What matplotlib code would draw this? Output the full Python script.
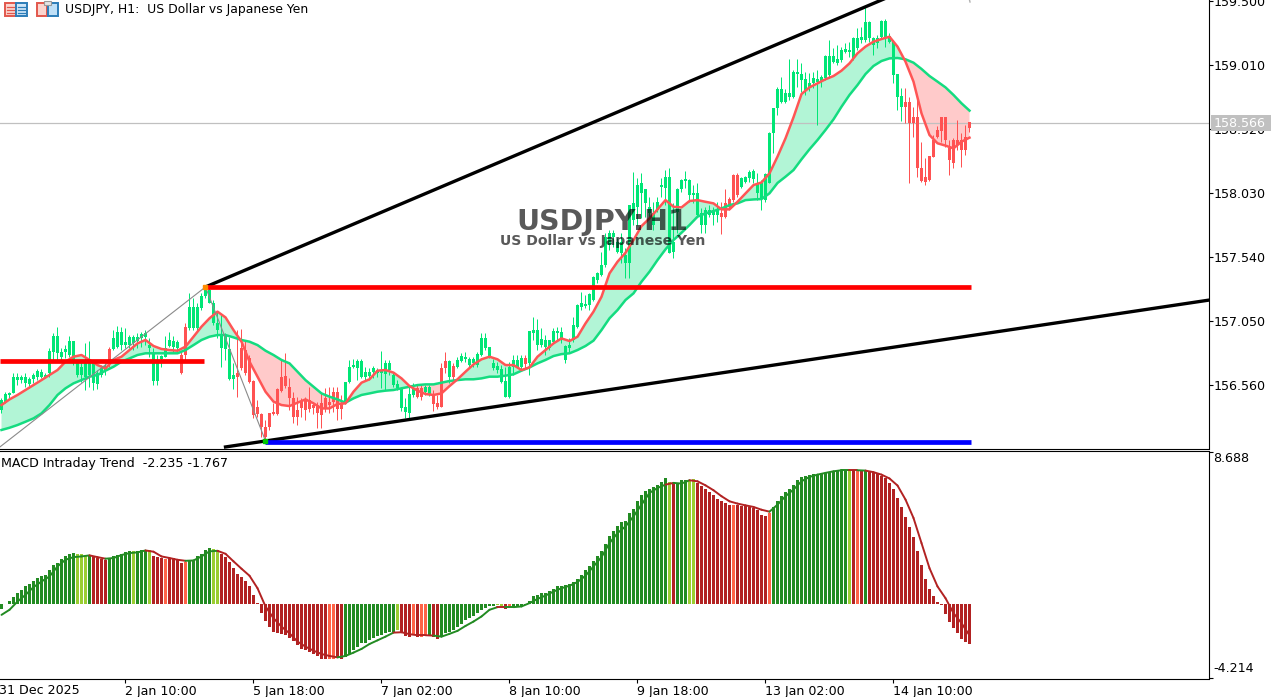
import numpy as np
import matplotlib
matplotlib.use("Agg")
import matplotlib.pyplot as plt
from matplotlib.patches import Rectangle

# USDJPY H1 candles
body_top = [
    156.445, 156.489, 156.496, 156.619, 156.624, 156.619, 156.619, 156.606, 156.637, 156.670,
    156.662, 156.637, 156.820, 156.935, 156.935, 156.815, 156.836, 156.897, 156.897, 156.726,
    156.695, 156.726, 156.726, 156.726, 156.649, 156.688, 156.706, 156.833, 156.917, 156.968,
    156.968, 156.892, 156.925, 156.925, 156.925, 156.948, 156.956, 156.866, 156.803, 156.726,
    156.782, 156.841, 156.905, 156.900, 156.892, 156.790, 157.002, 157.160, 157.155, 157.160,
    157.242, 157.287, 157.287, 157.190, 157.032, 156.943, 156.943, 156.833, 156.637, 156.655,
    156.841, 156.828, 156.764, 156.593, 156.394, 156.338, 156.241, 156.343, 156.351, 156.527,
    156.624, 156.629, 156.542, 156.458, 156.369, 156.440, 156.445, 156.445, 156.407, 156.407,
    156.420, 156.458, 156.433, 156.504, 156.504,
    156.415, 156.586, 156.695, 156.713, 156.746, 156.746, 156.662, 156.657, 156.688, 156.675,
    156.675, 156.726, 156.731, 156.637, 156.568, 156.535, 156.394, 156.491, 156.535, 156.535,
    156.535, 156.542, 156.547, 156.484, 156.420, 156.688, 156.744, 156.744, 156.706, 156.752,
    156.782, 156.772, 156.757, 156.757, 156.797, 156.917, 156.917, 156.849, 156.731, 156.706,
    156.680, 156.591, 156.695, 156.752, 156.752, 156.764, 156.764, 156.974, 156.981, 156.981,
    156.910, 156.905, 156.905, 156.974, 156.974, 156.968, 156.859, 156.866, 157.019, 157.173,
    157.190, 157.180, 157.257, 157.389, 157.415, 157.479, 157.695, 157.721, 157.721, 157.657,
    157.657, 157.555, 157.938, 157.951, 158.091, 158.104, 158.058, 157.925, 157.874, 157.963,
    158.091, 158.155, 158.155, 157.657, 158.058, 158.129, 158.134, 158.129, 158.027, 158.027,
    157.874, 157.900, 157.900, 157.900, 157.905, 157.874, 157.951, 157.981, 158.168, 158.168,
    158.142, 158.150, 158.193, 158.201, 158.104, 158.104, 158.175,
    158.487, 158.679, 158.824, 158.824, 158.793, 158.793, 158.959, 158.959, 158.941, 158.901,
    158.870, 158.908, 158.901, 158.916, 159.079, 159.079, 159.079, 159.054, 159.125, 159.130,
    159.125, 159.215, 159.215, 159.227, 159.342, 159.342, 159.215, 159.215, 159.350, 159.350,
    159.232, 159.189, 158.941, 158.773, 158.730, 158.730, 158.610, 158.610, 158.224, 158.155,
    158.314, 158.436, 158.513, 158.610, 158.610, 158.372, 158.436, 158.436, 158.436, 158.462,
    158.571,
]
body_bot = [
    156.369, 156.433, 156.484, 156.496, 156.598, 156.598, 156.573, 156.565, 156.606, 156.624,
    156.624, 156.624, 156.649, 156.815, 156.803, 156.777, 156.815, 156.790, 156.752, 156.637,
    156.637, 156.624, 156.637, 156.573, 156.568, 156.637, 156.670, 156.726, 156.833, 156.854,
    156.866, 156.866, 156.866, 156.879, 156.900, 156.917, 156.930, 156.841, 156.593, 156.591,
    156.757, 156.777, 156.859, 156.854, 156.841, 156.649, 156.790, 156.994, 156.994, 156.994,
    157.147, 157.242, 157.190, 157.032, 156.981, 156.841, 156.833, 156.604, 156.604, 156.624,
    156.688, 156.649, 156.586, 156.330, 156.338, 156.241, 156.165, 156.236, 156.338, 156.338,
    156.517, 156.552, 156.458, 156.318, 156.313, 156.381, 156.369, 156.374, 156.381, 156.343,
    156.330, 156.381, 156.407, 156.433, 156.374,
    156.374, 156.420, 156.586, 156.695, 156.688, 156.624, 156.624, 156.632, 156.662, 156.649,
    156.649, 156.644, 156.675, 156.560, 156.535, 156.381, 156.356, 156.348, 156.484, 156.471,
    156.466, 156.509, 156.484, 156.415, 156.389, 156.394, 156.688, 156.624, 156.624, 156.695,
    156.744, 156.757, 156.713, 156.726, 156.713, 156.790, 156.841, 156.782, 156.688, 156.675,
    156.586, 156.471, 156.466, 156.695, 156.695, 156.695, 156.721, 156.731, 156.961, 156.866,
    156.866, 156.854, 156.841, 156.892, 156.961, 156.905, 156.752, 156.841, 156.905, 157.007,
    157.160, 157.165, 157.172, 157.211, 157.364, 157.402, 157.479, 157.632, 157.695, 157.581,
    157.568, 157.491, 157.491, 157.823, 157.925, 158.027, 157.951, 157.874, 157.785, 157.900,
    158.073, 158.065, 157.568, 157.581, 157.887, 158.058, 158.124, 158.014, 158.014, 157.861,
    157.785, 157.785, 157.861, 157.861, 157.861, 157.849, 157.849, 157.925, 157.976, 158.014,
    158.078, 158.117, 158.142, 158.134, 158.027, 157.989, 157.976,
    158.109, 158.492, 158.679, 158.730, 158.730, 158.768, 158.763, 158.941, 158.896, 158.819,
    158.839, 158.870, 158.883, 158.890, 158.908, 158.934, 159.036, 159.028, 159.049, 159.112,
    159.112, 159.061, 159.138, 159.202, 159.202, 159.215, 159.163, 159.181, 159.222, 159.215,
    159.189, 158.934, 158.768, 158.691, 158.691, 158.569, 158.569, 158.219, 158.125, 158.117,
    158.130, 158.309, 158.462, 158.508, 158.436, 158.283, 158.263, 158.398, 158.360, 158.360,
    158.526,
]
wick_top = [
    156.458, 156.509, 156.509, 156.649, 156.649, 156.637, 156.649, 156.624, 156.649, 156.680,
    156.680, 156.649, 156.841, 156.961, 157.007, 156.841, 156.866, 156.935, 156.897, 156.752,
    156.752, 156.879, 156.897, 156.752, 156.675, 156.713, 156.726, 156.854, 156.981, 157.012,
    157.007, 156.994, 156.943, 156.943, 156.961, 156.968, 156.981, 156.917, 156.841, 156.790,
    156.790, 156.935, 156.968, 156.935, 156.905, 156.815, 157.032, 157.262, 157.224, 157.185,
    157.262, 157.313, 157.308, 157.211, 157.122, 157.096, 156.956, 156.930, 156.726, 156.981,
    156.986, 156.905, 156.790, 156.598, 156.445, 156.343, 156.292, 156.348, 156.420, 156.535,
    156.752, 156.803, 156.611, 156.509, 156.471, 156.458, 156.471, 156.547, 156.433, 156.433,
    156.496, 156.535, 156.542, 156.542, 156.542,
    156.484, 156.586, 156.752, 156.757, 156.757, 156.757, 156.695, 156.688, 156.706, 156.688,
    156.823, 156.752, 156.752, 156.649, 156.598, 156.547, 156.458, 156.547, 156.573, 156.560,
    156.560, 156.560, 156.560, 156.522, 156.484, 156.731, 156.815, 156.752, 156.726, 156.772,
    156.803, 156.815, 156.772, 156.772, 156.815, 156.956, 156.956, 156.854, 156.757, 156.739,
    156.713, 156.700, 156.739, 156.790, 156.790, 156.790, 156.790, 156.974, 157.078, 157.063,
    156.994, 156.943, 156.905, 156.994, 157.007, 157.007, 156.866, 156.917, 157.078, 157.180,
    157.274, 157.249, 157.262, 157.394, 157.427, 157.581, 157.721, 157.747, 157.747, 157.683,
    157.721, 157.606, 157.938, 158.193, 158.142, 158.180, 158.058, 158.002, 157.963, 158.002,
    158.142, 158.206, 158.219, 157.951, 158.065, 158.134, 158.201, 158.134, 158.091, 158.104,
    157.912, 157.925, 157.938, 157.925, 157.963, 157.963, 158.058, 158.002, 158.175, 158.180,
    158.155, 158.160, 158.206, 158.211, 158.180, 158.129, 158.185,
    158.500, 158.679, 158.844, 158.921, 158.824, 159.054, 158.972, 159.054, 159.028, 158.959,
    158.947, 158.959, 158.972, 158.934, 159.087, 159.202, 159.138, 159.163, 159.151, 159.176,
    159.189, 159.227, 159.291, 159.304, 159.462, 159.350, 159.227, 159.240, 159.355, 159.360,
    159.253, 159.202, 158.941, 158.832, 158.832, 158.768, 158.691, 158.755, 158.423, 158.296,
    158.314, 158.474, 158.543, 158.615, 158.615, 158.436, 158.449, 158.589, 158.487, 158.551,
    158.571,
]
wick_bot = [
    156.343, 156.420, 156.458, 156.496, 156.560, 156.573, 156.547, 156.535, 156.573, 156.598,
    156.611, 156.611, 156.624, 156.752, 156.752, 156.752, 156.764, 156.777, 156.713, 156.624,
    156.586, 156.522, 156.547, 156.522, 156.527, 156.624, 156.637, 156.700, 156.828, 156.841,
    156.828, 156.841, 156.841, 156.828, 156.841, 156.854, 156.866, 156.777, 156.560, 156.560,
    156.700, 156.772, 156.854, 156.815, 156.815, 156.644, 156.752, 156.981, 156.981, 156.981,
    157.134, 157.224, 157.185, 157.019, 156.917, 156.695, 156.752, 156.598, 156.527, 156.471,
    156.675, 156.637, 156.573, 156.305, 156.318, 156.165, 156.144, 156.216, 156.330, 156.330,
    156.509, 156.535, 156.369, 156.267, 156.254, 156.318, 156.292, 156.356, 156.338, 156.228,
    156.228, 156.356, 156.343, 156.356, 156.292,
    156.297, 156.415, 156.573, 156.688, 156.598, 156.611, 156.598, 156.598, 156.611, 156.624,
    156.535, 156.522, 156.637, 156.542, 156.522, 156.364, 156.305, 156.297, 156.471, 156.458,
    156.445, 156.484, 156.476, 156.364, 156.374, 156.389, 156.649, 156.573, 156.573, 156.688,
    156.739, 156.739, 156.688, 156.695, 156.695, 156.782, 156.828, 156.764, 156.675, 156.649,
    156.573, 156.466, 156.461, 156.637, 156.688, 156.675, 156.688, 156.637, 156.905, 156.828,
    156.854, 156.790, 156.828, 156.879, 156.905, 156.879, 156.731, 156.815, 156.892, 156.994,
    157.134, 157.147, 157.134, 157.205, 157.338, 157.394, 157.466, 157.593, 157.619, 157.568,
    157.491, 157.376, 157.376, 157.785, 157.785, 157.836, 157.849, 157.849, 157.747, 157.887,
    158.002, 157.938, 157.568, 157.530, 157.721, 158.040, 158.065, 157.963, 157.951, 157.849,
    157.721, 157.726, 157.849, 157.785, 157.810, 157.716, 157.836, 157.900, 157.963, 158.002,
    158.065, 158.104, 158.117, 158.104, 157.976, 157.900, 157.963,
    158.104, 158.334, 158.628, 158.717, 158.717, 158.742, 158.755, 158.839, 158.806, 158.781,
    158.814, 158.832, 158.551, 158.844, 158.896, 158.908, 159.023, 159.010, 159.036, 159.100,
    159.074, 159.049, 159.125, 159.176, 159.189, 159.189, 159.087, 159.138, 159.207, 159.151,
    159.176, 158.870, 158.666, 158.584, 158.569, 158.109, 158.457, 158.155, 158.117, 158.092,
    158.125, 158.303, 158.449, 158.423, 158.385, 158.168, 158.219, 158.360, 158.232, 158.321,
    158.500,
]
# candle colour follows the trend indicator: (colour, number of bars)
candle_runs = [
    ("g", 27), ("r", 1), ("g", 17), ("r", 2), ("g", 12), ("r", 27), ("g", 18), ("r", 2),
    ("g", 2), ("r", 4), ("g", 1), ("r", 1), ("g", 17), ("r", 1), ("g", 48), ("r", 5),
    ("g", 41), ("r", 17),
]

# moving averages, every second bar
fast_ma = [
    156.407, 156.450, 156.484, 156.522, 156.560, 156.598, 156.637, 156.675, 156.739, 156.777,
    156.790, 156.752, 156.713, 156.688, 156.752, 156.777, 156.828, 156.879, 156.905, 156.859,
    156.836, 156.828, 156.823, 156.854, 156.930, 157.007, 157.071, 157.122, 157.078, 156.981,
    156.892, 156.739, 156.624, 156.509, 156.433, 156.407, 156.399, 156.425, 156.450, 156.420,
    156.381, 156.381, 156.415, 156.420, 156.509, 156.578, 156.604, 156.670, 156.675, 156.655,
    156.611, 156.552, 156.517, 156.491, 156.484, 156.496, 156.552, 156.604, 156.662, 156.718,
    156.757, 156.777, 156.757, 156.713, 156.713, 156.675, 156.695, 156.777, 156.828, 156.879,
    156.917, 156.897, 156.930, 157.032, 157.122, 157.236, 157.415, 157.504, 157.573, 157.670,
    157.777, 157.836, 157.905, 157.976, 157.925, 157.920, 157.969, 157.976, 157.963, 157.951,
    157.905, 157.905, 157.963, 158.027, 158.091, 158.111, 158.181, 158.309, 158.449, 158.610,
    158.788, 158.839, 158.870, 158.901, 158.926, 158.967, 159.023, 159.100, 159.151, 159.189,
    159.209, 159.227, 159.151, 159.036, 158.883, 158.640, 158.474, 158.411, 158.393, 158.372,
    158.423, 158.454,
]
slow_ma = [
    156.216, 156.233, 156.254, 156.279, 156.305, 156.343, 156.407, 156.484, 156.535, 156.573,
    156.598, 156.624, 156.637, 156.670, 156.700, 156.739, 156.764, 156.790, 156.803, 156.803,
    156.803, 156.803, 156.803, 156.828, 156.866, 156.905, 156.930, 156.943, 156.943, 156.925,
    156.905, 156.892, 156.866, 156.823, 156.790, 156.752, 156.726, 156.662, 156.598, 156.547,
    156.496, 156.471, 156.450, 156.425, 156.458, 156.484, 156.496, 156.509, 156.517, 156.522,
    156.535, 156.547, 156.560, 156.565, 156.565, 156.578, 156.591, 156.598, 156.604, 156.604,
    156.611, 156.624, 156.624, 156.632, 156.642, 156.670, 156.695, 156.726, 156.752, 156.782,
    156.797, 156.803, 156.828, 156.859, 156.900, 156.981, 157.071, 157.134, 157.211, 157.262,
    157.351, 157.428, 157.517, 157.599, 157.670, 157.726, 157.785, 157.849, 157.874, 157.892,
    157.912, 157.938, 157.951, 157.976, 157.981, 157.984, 158.028, 158.107, 158.155, 158.206,
    158.288, 158.365, 158.436, 158.513, 158.594, 158.691, 158.781, 158.857, 158.941, 159.003,
    159.041, 159.061, 159.064, 159.054, 159.028, 158.980, 158.926, 158.883, 158.839, 158.781,
    158.717, 158.661,
]

# MACD Intraday Trend panel
macd_hist = [
    -0.25, 0.03, 0.20, 0.41, 0.64, 0.83, 1.02, 1.15, 1.34, 1.49, 1.63, 1.67, 1.93, 2.26, 2.35,
    2.58, 2.73, 2.88, 2.92, 2.88, 2.86, 2.77, 2.77, 2.69, 2.64, 2.60, 2.54, 2.64, 2.73, 2.83,
    2.88, 2.96, 3.02, 3.04, 3.02, 3.07, 3.09, 3.07, 2.77, 2.69, 2.62, 2.58, 2.62, 2.64, 2.54,
    2.35, 2.39, 2.50, 2.54, 2.73, 2.88, 3.07, 3.21, 3.15, 3.11, 2.88, 2.69, 2.39, 2.06, 1.74,
    1.55, 1.34, 1.02, 0.54, 0.07, -0.47, -0.94, -1.27, -1.55, -1.65, -1.70, -1.74, -1.93,
    -2.06, -2.31, -2.54, -2.60, -2.69, -2.83, -2.94, -3.09, -3.09, -3.09, -3.09, -3.07, -3.09,
    -2.98, -2.83, -2.60, -2.41, -2.22, -2.18, -2.03, -1.93, -1.80, -1.74, -1.61, -1.55, -1.55,
    -1.49, -1.55, -1.78, -1.84, -1.76, -1.84, -1.84, -1.80, -1.76, -1.84, -1.97, -1.80, -1.65,
    -1.55, -1.46, -1.27, -1.11, -0.92, -0.79, -0.69, -0.50, -0.35, -0.22, -0.09, -0.07, -0.05,
    -0.09, -0.28, -0.16, -0.16, -0.12, -0.12, -0.03, 0.20, 0.45, 0.54, 0.64, 0.64, 0.77, 0.87,
    1.02, 1.06, 1.08, 1.15, 1.25, 1.44, 1.68, 1.93, 2.16, 2.45, 2.73, 3.02, 3.45, 3.87, 4.20,
    4.44, 4.67, 4.73, 5.20, 5.43, 5.87, 6.25, 6.48, 6.57, 6.69, 6.82, 6.99, 7.20, 6.99, 6.92,
    6.88, 7.11, 7.07, 7.11, 7.15, 6.92, 6.73, 6.57, 6.38, 6.25, 6.02, 5.87, 5.78, 5.64, 5.64,
    5.68, 5.62, 5.59, 5.53, 5.49, 5.36, 5.11, 5.05, 5.20, 5.55, 5.91, 6.16, 6.40, 6.57, 6.82,
    7.11, 7.26, 7.34, 7.39, 7.45, 7.45, 7.49, 7.49, 7.55, 7.58, 7.62, 7.64, 7.66, 7.66, 7.64,
    7.62, 7.64, 7.64, 7.55, 7.53, 7.45, 7.34, 7.17, 6.92, 6.57, 6.06, 5.55, 4.98, 4.41, 3.83,
    3.05, 2.26, 1.44, 0.88, 0.49, 0.16, -0.03, -0.54, -0.98, -1.32, -1.61, -1.97, -2.12, -2.235,
]
# every second bar
macd_signal = [
    -0.60, -0.31, 0.16, 0.54, 0.98, 1.30, 1.59, 2.16, 2.54, 2.69, 2.73, 2.79, 2.69, 2.60, 2.64,
    2.81, 2.92, 2.96, 3.07, 3.00, 2.73, 2.64, 2.54, 2.48, 2.50, 2.73, 3.02, 3.05, 2.88, 2.45,
    2.03, 1.63, 0.92, -0.12, -0.79, -1.27, -1.65, -2.12, -2.41, -2.64, -2.83, -2.94, -3.02,
    -2.94, -2.75, -2.54, -2.26, -2.05, -1.84, -1.61, -1.59, -1.70, -1.76, -1.76, -1.78, -1.84,
    -1.68, -1.51, -1.23, -0.98, -0.69, -0.31, -0.16, -0.16, -0.16, -0.12, 0.07, 0.31, 0.50,
    0.73, 0.92, 1.06, 1.27, 1.63, 2.16, 2.69, 3.49, 4.06, 4.44, 5.01, 5.68, 6.35, 6.63, 6.82,
    6.92, 6.88, 7.07, 7.01, 6.78, 6.50, 6.16, 5.87, 5.74, 5.64, 5.55, 5.39, 5.28, 5.68, 6.16,
    6.54, 7.01, 7.26, 7.39, 7.49, 7.58, 7.64, 7.64, 7.64, 7.62, 7.53, 7.39, 7.17, 6.77, 5.97,
    4.92, 3.49, 2.06, 1.02, 0.35, -0.50, -1.07, -1.767,
]
hist_runs = [
    ("g", 19), ("l", 3), ("g", 1), ("r", 4), ("g", 6), ("l", 1), ("g", 3), ("l", 1), ("r", 3),
    ("o", 1), ("r", 4), ("o", 1), ("g", 6), ("l", 2), ("r", 27), ("o", 2), ("r", 2), ("g", 13),
    ("l", 1), ("r", 3), ("o", 1), ("r", 1), ("o", 2), ("g", 1), ("r", 2), ("g", 14), ("l", 2),
    ("r", 1), ("o", 1), ("g", 39), ("l", 1), ("r", 1), ("g", 3), ("l", 2), ("r", 9), ("o", 1),
    ("r", 8), ("o", 1), ("g", 19), ("l", 1), ("r", 1), ("o", 1), ("r", 1), ("g", 1), ("r", 26),
]

# axis labels
price_ticks = [159.500, 159.010, 158.520, 158.030, 157.540, 157.050, 156.560]
date_bars = [31, 63, 95, 127, 159, 191, 223]
date_labels = ["2 Jan 10:00", "5 Jan 18:00", "7 Jan 02:00", "8 Jan 10:00",
               "9 Jan 18:00", "13 Jan 02:00", "14 Jan 10:00"]
last_price = 158.566

# drawn objects: (bar, price)
upper_trend = ([51, 222], [157.311, 159.534])
lower_trend = ([56, 302], [156.086, 157.211])
zigzag = ([-0.4, 51, 66], [156.086, 157.311, 156.132])
res_high = ([51, 242.5], [157.311, 157.311])
res_low = ([-0.4, 50.6], [156.741, 156.741])
support = ([66, 242.5], [156.124, 156.124])

WIDTH, HEIGHT = 1285, 697
FONT = "DejaVu Sans"
TXT = 9.05
GREEN = "#00E676"
RED = "#FF5252"
HIST_COLORS = {"g": "#228B22", "l": "#9ACD32", "r": "#B22222", "o": "#FF6347"}

plt.rcParams["font.family"] = FONT


def px_axes(fig, left, top, right, bottom):
    return fig.add_axes([left / WIDTH, 1 - bottom / HEIGHT,
                         (right - left) / WIDTH, (bottom - top) / HEIGHT])


def expand(runs):
    return np.array([c for c, n in runs for _ in range(n)])


fig = plt.figure(figsize=(WIDTH / 100, HEIGHT / 100), dpi=100)
ax = px_axes(fig, 0, 0, 1208.5, 448.5)
ax_macd = px_axes(fig, 0, 450.5, 1208.5, 678.5)

x = np.arange(len(body_top))
x_ma = x[::2]
xlim = (-1.5 / 4, (1208.5 - 1.5) / 4)

# main pane
fast = np.array(fast_ma)
slow = np.array(slow_ma)
ax.fill_between(x_ma, fast, slow, where=fast >= slow, interpolate=True,
                color="#B2F5D6", lw=0, zorder=1)
ax.fill_between(x_ma, fast, slow, where=fast < slow, interpolate=True,
                color="#FFCACA", lw=0, zorder=1)
ax.axhline(last_price, color="#C0C0C0", lw=0.9, zorder=1.5)

candle_colors = expand(candle_runs)
colors = np.where(candle_colors == "g", GREEN, RED)
top = np.array(body_top)
bot = np.array(body_bot)
ax.vlines(x, wick_bot, wick_top, colors=colors, lw=0.72, zorder=2)
ax.bar(x, np.maximum(top - bot, 0.008), bottom=bot, width=0.75, color=colors,
       lw=0, zorder=3, antialiased=False)

ax.plot(x_ma, slow, color="#14DC80", lw=1.8, zorder=4)
ax.plot(x_ma, fast, color="#FF5555", lw=1.8, zorder=5)

# objects
ax.plot(*zigzag, color="#8A8A8A", lw=0.8, zorder=6)
ax.plot(*upper_trend, color="black", lw=2.4, zorder=7)
ax.plot(*lower_trend, color="black", lw=2.4, zorder=7)
ax.plot(*res_high, color="#FF0000", lw=3.4, solid_capstyle="butt", zorder=8)
ax.plot(*res_low, color="#FF0000", lw=3.4, solid_capstyle="butt", zorder=8)
ax.plot(*support, color="#0000FF", lw=3.4, solid_capstyle="butt", zorder=8)
ax.plot(zigzag[0][1], zigzag[1][1], "s", color="#FF8C00", ms=2.4, zorder=9)
ax.plot(zigzag[0][2], zigzag[1][2], "s", color="#00C800", ms=2.4, zorder=9)

# watermark
ax.text(150.2, 157.808, "USDJPY:H1", weight="bold", fontsize=20.5, color="black",
        alpha=0.65, ha="center", va="center", zorder=9)
ax.text(150.2, 157.66, "US Dollar vs Japanese Yen", weight="bold", fontsize=10.1,
        color="black", alpha=0.65, ha="center", va="center", zorder=9)

ax.set_xlim(xlim)
ax.set_ylim(159.508 - 448.5 * 0.00765625, 159.508)
ax.yaxis.tick_right()
ax.set_yticks(price_ticks)
ax.set_yticklabels([f"{p:.3f}" for p in price_ticks], fontsize=TXT)
ax.tick_params(axis="y", length=3, width=0.8, pad=0.8, colors="black")
ax.set_xticks([])

# MACD pane
hist_colors = expand(hist_runs)
ax_macd.bar(x, macd_hist, width=0.75, color=[HIST_COLORS[c] for c in hist_colors],
            lw=0, antialiased=False, zorder=2)
for k in range(len(x_ma) - 1):
    seg = hist_colors[x_ma[k + 1]]
    c = HIST_COLORS["g"] if seg in "gl" else HIST_COLORS["r"]
    ax_macd.plot(x_ma[k:k + 2], macd_signal[k:k + 2], color=c, lw=1.4,
                 solid_capstyle="round", zorder=3)

ax_macd.set_xlim(xlim)
ax_macd.set_ylim(-4.225, 8.765)
ax_macd.yaxis.tick_right()
ax_macd.set_yticks([8.688, -4.214])
ax_macd.set_yticklabels([])
ax_macd.tick_params(axis="y", length=3, width=0.8)
ax_macd.set_xticks(date_bars)
ax_macd.set_xticklabels(date_labels, ha="left", fontsize=TXT)
ax_macd.tick_params(axis="x", length=3, width=0.8, pad=2)

for a in (ax, ax_macd):
    a.spines["left"].set_visible(False)
    a.spines["top"].set_visible(False)
    a.spines["right"].set_linewidth(0.8)
    a.spines["bottom"].set_linewidth(0.8)
ax_macd.spines["top"].set_visible(True)
ax_macd.spines["top"].set_linewidth(0.8)

# overlay in pixels for the header, labels and icons
ov = fig.add_axes([0, 0, 1, 1], facecolor="none")
ov.set_xlim(0, WIDTH)
ov.set_ylim(HEIGHT, 0)
ov.axis("off")

ov.text(65, 9, "USDJPY, H1:  US Dollar vs Japanese Yen", fontsize=TXT - 0.1, va="center")
ov.text(1, 463, "MACD Intraday Trend  -2.235 -1.767", fontsize=TXT, va="center")
ov.text(-1, 690, "31 Dec 2025", fontsize=TXT, va="center")
ov.text(1213, 459, "8.688", fontsize=TXT, va="center")
ov.text(1213, 669, "-4.214", fontsize=TXT, va="center")
ov.plot([969.5, 970], [0, 2], color="#B0B0B0", lw=1)

# last price tag
ov.add_patch(Rectangle((1211, 115), 60, 16, color="#C0C0C0", lw=0))
ov.text(1214, 123.5, f"{last_price:.3f}", fontsize=TXT, color="white", va="center")

# toolbar icons
ov.add_patch(Rectangle((5, 3), 10.5, 13, fc="#FBD5CF", ec="#E2574C", lw=1.4))
ov.add_patch(Rectangle((16, 3), 10.5, 13, fc="#CFE6F8", ec="#2C7DB8", lw=1.4))
for yy in (6.5, 9.5, 12.5):
    ov.plot([7, 14], [yy, yy], color="#E2574C", lw=0.9)
    ov.plot([18, 25], [yy, yy], color="#2C7DB8", lw=0.9)
ov.add_patch(Rectangle((37, 3), 10, 13, fc="#FBD5CF", ec="#E2574C", lw=1.4))
ov.add_patch(Rectangle((48, 3), 10, 13, fc="#BFE0F7", ec="#2C7DB8", lw=1.4))
ov.add_patch(Rectangle((44, 1), 7, 4, fc="#E4E4E4", ec="#999999", lw=0.8))

fig.savefig("out.png", dpi=100)
plt.close(fig)
